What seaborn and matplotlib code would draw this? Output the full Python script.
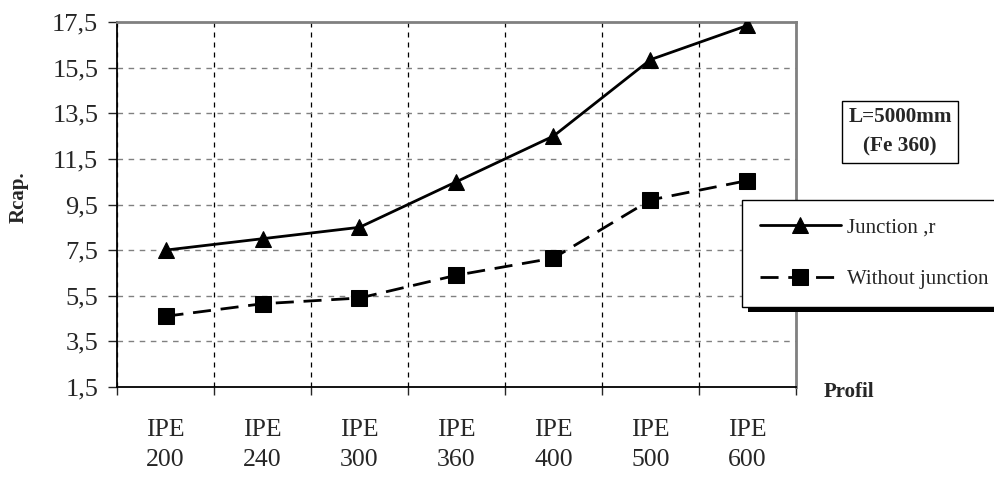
import matplotlib
matplotlib.use("Agg")
import matplotlib.pyplot as plt
import matplotlib.patheffects as pe
import seaborn as sns
import pandas as pd
import numpy as np

# ---- data ----
profiles = ["IPE\n200", "IPE\n240", "IPE\n300", "IPE\n360", "IPE\n400", "IPE\n500", "IPE\n600"]
junction = [7.5, 8.0, 8.5, 10.5, 12.5, 15.85, 17.35]
without_junction = [4.6, 5.15, 5.4, 6.4, 7.15, 9.7, 10.55]
series_names = ["Junction ,r", "Without junction"]
y_ticks = [1.5, 3.5, 5.5, 7.5, 9.5, 11.5, 13.5, 15.5, 17.5]
y_label = "Rcap."
x_label = "Profil"
note = "L=5000mm\n(Fe 360)"

sns.set_style("white")
plt.rcParams['font.family'] = ['Liberation Serif', 'DejaVu Serif']

W, H = 994, 478
fig = plt.figure(figsize=(W / 100, H / 100), dpi=100)
ax = fig.add_axes([117 / W, 1 - 387 / H, (796 - 117) / W, (387 - 22) / H])

x_pos = np.arange(len(profiles))
df = pd.DataFrame({"x": np.concatenate([x_pos, x_pos]),
                   "y": junction + without_junction,
                   "series": [series_names[0]] * len(profiles) + [series_names[1]] * len(profiles)})

LW = 2.0
DASH = [6.5, 3.5]
sns.lineplot(data=df[df.series == series_names[0]], x="x", y="y", ax=ax,
             color="black", lw=LW, marker="^", markersize=11, markeredgecolor="black",
             label=series_names[0], zorder=5)
sns.lineplot(data=df[df.series == series_names[1]], x="x", y="y", ax=ax,
             color="black", lw=LW, marker="s", markersize=11, markeredgecolor="black",
             dashes=False, label=series_names[1], zorder=5)
ax.lines[1].set_dashes(DASH)

ax.set_xlim(-0.5, len(profiles) - 0.5)
ax.set_ylim(y_ticks[0], y_ticks[-1])

# y axis
ax.set_yticks(y_ticks)
ax.set_yticklabels([f"{v:.1f}".replace(".", ",") for v in y_ticks], fontsize=19)
ax.tick_params(axis="y", which="major", direction="out", length=6.5, width=1, pad=7, left=True)

# x axis: boundary ticks (major, with grid) + centred labels (minor)
ax.set_xticks(np.arange(-0.5, len(profiles), 1.0))
ax.set_xticklabels([])
ax.set_xticks(x_pos, minor=True)
ax.set_xticklabels(profiles, minor=True, fontsize=18.5, linespacing=1.45)
ax.tick_params(axis="x", which="major", direction="out", length=6, width=1, bottom=True)
ax.tick_params(axis="x", which="minor", length=0, pad=23)

ax.set_xlabel("")
ax.set_ylabel("")

# grid
ax.grid(False)
for yv in y_ticks[1:-1]:
    ax.axhline(yv, color="#808080", lw=1, ls=(0, (4, 4)), zorder=1)
ax.xaxis.grid(True, which="major", color="black", lw=0.9, ls=(0, (4, 4)))
ax.set_axisbelow(True)

# spines
ax.spines["left"].set_color("black")
ax.spines["bottom"].set_color("black")
ax.spines["left"].set_linewidth(1.3)
ax.spines["bottom"].set_linewidth(1.3)
for s in ["top", "right"]:
    ax.spines[s].set_color("#808080")
    ax.spines[s].set_linewidth(2)

# labels
fig.text(19 / W, 1 - 197 / H, y_label, rotation=90, ha="center", va="center",
         fontsize=15, fontweight="bold")
fig.text(849 / W, 1 - 392 / H, x_label, ha="center", va="center",
         fontsize=15, fontweight="bold")
fig.text(900 / W, 1 - 132 / H, note, ha="center", va="center", fontsize=15.3,
         fontweight="bold", linespacing=1.6,
         bbox=dict(boxstyle="square,pad=0.3", fc="white", ec="black", lw=1))

# legend
leg = ax.legend(loc="upper left",
                bbox_to_anchor=(742 / W, 1 - 305 / H, (1020 - 742) / W, (305 - 200) / H),
                bbox_transform=fig.transFigure, mode="expand",
                fontsize=15, frameon=True, fancybox=False, framealpha=1,
                edgecolor="black", handlelength=3.9, handletextpad=0.3,
                labelspacing=1.55, borderpad=0.85, borderaxespad=0)
leg.get_frame().set_linewidth(1)
leg.get_frame().set_path_effects([pe.SimplePatchShadow(offset=(4, -4), shadow_rgbFace="black", alpha=1),
                                  pe.Normal()])
for h in leg.legend_handles:
    h.set_markersize(11)
    h.set_linewidth(LW)
leg.legend_handles[1].set_dashes(DASH)

fig.savefig("out.png", dpi=100)
